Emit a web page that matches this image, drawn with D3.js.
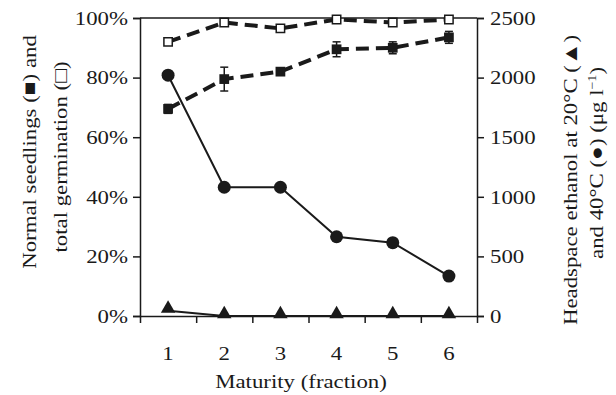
<!DOCTYPE html>
<html>
<head>
<meta charset="utf-8">
<script src="https://cdn.jsdelivr.net/npm/d3@7"></script>
<style>
  body { margin: 0; background: #fff; }
  text { font-family: "Liberation Serif", "Times New Roman", serif; fill: #1a1a1a; }
</style>
</head>
<body>
<div id="chart"></div>
<script>
const maturity = [1, 2, 3, 4, 5, 6];
const totalGermination = [92, 98.5, 96.5, 99.5, 98.5, 99.5];
const normalSeedlings = [69.5, 79.5, 82, 89.5, 90, 93.5];
const normalErr = [1.5, 4, 1, 2.5, 2, 2];
const ethanol40 = [2020, 1080, 1080, 665, 615, 335];
const ethanol20 = [45, 0, 0, 0, 0, 0];
const leftTicks = [0, 20, 40, 60, 80, 100];
const rightTicks = [0, 500, 1000, 1500, 2000, 2500];

const width = 616, height = 395;
const margin = { top: 18, right: 139, bottom: 79, left: 140 };
const stretchK = 1.17;

const svg = d3.select("#chart")
    .append("svg")
    .attr("width", width)
    .attr("height", height);

// the printed font is set a bit wider than Times, so widen glyphs
function stretch(sel) {
    sel.each(function () {
        const w = this.getComputedTextLength();
        d3.select(this).attr("textLength", w * stretchK).attr("lengthAdjust", "spacingAndGlyphs");
    });
}

const x = d3.scaleLinear().domain([0.5, 6.5]).range([margin.left, width - margin.right]);
const yL = d3.scaleLinear().domain([0, 100]).range([height - margin.bottom, margin.top]);
const yR = d3.scaleLinear().domain([0, 2500]).range([height - margin.bottom, margin.top]);

const ink = "#1a1a1a";

// frame top line
svg.append("line")
    .attr("x1", x(0.5)).attr("x2", x(6.5))
    .attr("y1", yL(100)).attr("y2", yL(100))
    .attr("stroke", ink).attr("stroke-width", 1.5);

// x axis: ticks between categories, labels at categories
const xAxis = svg.append("g")
    .attr("transform", "translate(0," + yL(0) + ")")
    .call(d3.axisBottom(x).tickValues([1.5, 2.5, 3.5, 4.5, 5.5]).tickSize(7).tickFormat(""));
xAxis.select(".domain").attr("stroke", ink).attr("stroke-width", 1.5);
xAxis.selectAll(".tick line").attr("stroke", ink).attr("stroke-width", 1.5);

svg.append("g").selectAll("text")
    .data(maturity)
    .enter().append("text")
    .attr("x", d => x(d))
    .attr("y", yL(0) + 44)
    .attr("text-anchor", "middle")
    .attr("font-size", 19.5)
    .text(d => d)
    .call(stretch);

// left axis
const leftAxis = svg.append("g")
    .attr("transform", "translate(" + x(0.5) + ",0)")
    .call(d3.axisLeft(yL).tickValues(leftTicks).tickSize(7).tickPadding(5).tickFormat(d => d + "%"));
leftAxis.select(".domain").attr("stroke", ink).attr("stroke-width", 1.5);
leftAxis.selectAll(".tick line").attr("stroke", ink).attr("stroke-width", 1.5);
leftAxis.selectAll(".tick text").attr("font-size", 19.5).attr("font-family", "Liberation Serif").attr("fill", ink)
    .call(stretch);

// right axis
const rightAxis = svg.append("g")
    .attr("transform", "translate(" + x(6.5) + ",0)")
    .call(d3.axisRight(yR).tickValues(rightTicks).tickSize(7).tickPadding(6).tickFormat(d3.format("d")));
rightAxis.select(".domain").attr("stroke", ink).attr("stroke-width", 1.5);
rightAxis.selectAll(".tick line").attr("stroke", ink).attr("stroke-width", 1.5);
rightAxis.selectAll(".tick text").attr("font-size", 19.5).attr("font-family", "Liberation Serif").attr("fill", ink)
    .call(stretch);

// lines
const lineL = d3.line().x((d, i) => x(maturity[i])).y(d => yL(d));
const lineR = d3.line().x((d, i) => x(maturity[i])).y(d => yR(d));

svg.append("path").datum(ethanol20)
    .attr("d", lineR).attr("fill", "none").attr("stroke", ink).attr("stroke-width", 2);
svg.append("path").datum(ethanol40)
    .attr("d", lineR).attr("fill", "none").attr("stroke", ink).attr("stroke-width", 2);
svg.append("path").datum(totalGermination)
    .attr("d", lineL).attr("fill", "none").attr("stroke", ink)
    .attr("stroke-width", 4).attr("stroke-dasharray", "13,7");
svg.append("path").datum(normalSeedlings)
    .attr("d", lineL).attr("fill", "none").attr("stroke", ink)
    .attr("stroke-width", 4).attr("stroke-dasharray", "13,7");

// error bars
const err = svg.append("g").selectAll("g")
    .data(normalSeedlings)
    .enter().append("g")
    .attr("stroke", ink).attr("stroke-width", 1.5);
err.append("line")
    .attr("x1", (d, i) => x(maturity[i])).attr("x2", (d, i) => x(maturity[i]))
    .attr("y1", (d, i) => yL(d - normalErr[i])).attr("y2", (d, i) => yL(d + normalErr[i]));
err.append("line")
    .attr("x1", (d, i) => x(maturity[i]) - 4).attr("x2", (d, i) => x(maturity[i]) + 4)
    .attr("y1", (d, i) => yL(d + normalErr[i])).attr("y2", (d, i) => yL(d + normalErr[i]));
err.append("line")
    .attr("x1", (d, i) => x(maturity[i]) - 4).attr("x2", (d, i) => x(maturity[i]) + 4)
    .attr("y1", (d, i) => yL(d - normalErr[i])).attr("y2", (d, i) => yL(d - normalErr[i]));

// markers
const sq = d3.symbol().type(d3.symbolSquare).size(95);
const tri = d3.symbol().type(d3.symbolTriangle).size(90);

svg.append("g").selectAll("path")
    .data(ethanol20)
    .enter().append("path")
    .attr("d", tri)
    .attr("transform", (d, i) => "translate(" + x(maturity[i]) + "," + (yR(d) - 2) + ")")
    .attr("fill", ink);

svg.append("g").selectAll("circle")
    .data(ethanol40)
    .enter().append("circle")
    .attr("cx", (d, i) => x(maturity[i]))
    .attr("cy", d => yR(d))
    .attr("r", 6.5)
    .attr("fill", ink);

svg.append("g").selectAll("path")
    .data(normalSeedlings)
    .enter().append("path")
    .attr("d", sq)
    .attr("transform", (d, i) => "translate(" + x(maturity[i]) + "," + yL(d) + ")")
    .attr("fill", ink);

svg.append("g").selectAll("path")
    .data(totalGermination)
    .enter().append("path")
    .attr("d", d3.symbol().type(d3.symbolSquare).size(70))
    .attr("transform", (d, i) => "translate(" + x(maturity[i]) + "," + yL(d) + ")")
    .attr("fill", "#fff").attr("stroke", ink).attr("stroke-width", 1.5);

// axis titles
svg.append("text")
    .attr("x", 301)
    .attr("y", 388)
    .attr("text-anchor", "middle")
    .attr("font-size", 19.5)
    .text("Maturity (fraction)")
    .call(stretch);

function vTitle(cy, baseline) {
    return svg.append("text")
        .attr("transform", "translate(" + baseline + "," + cy + ") rotate(-90)")
        .attr("text-anchor", "middle")
        .attr("font-size", 19.5);
}

vTitle(152, 36).text("Normal seedlings (\u25A0) and").call(stretch);
vTitle(157, 67).text("total germination (\u25A1)").call(stretch);
vTitle(180, 577).text("Headspace ethanol at 20\u00B0C (\u25B2)").call(stretch);

const r2 = vTitle(163, 603);
r2.append("tspan").text("and 40\u00B0C (\u25CF) (\u03BCg l");
r2.append("tspan").attr("dy", -7).attr("font-size", 12).text("\u22121");
r2.append("tspan").attr("dy", 7).text(")");
r2.call(stretch);
</script>
</body>
</html>
